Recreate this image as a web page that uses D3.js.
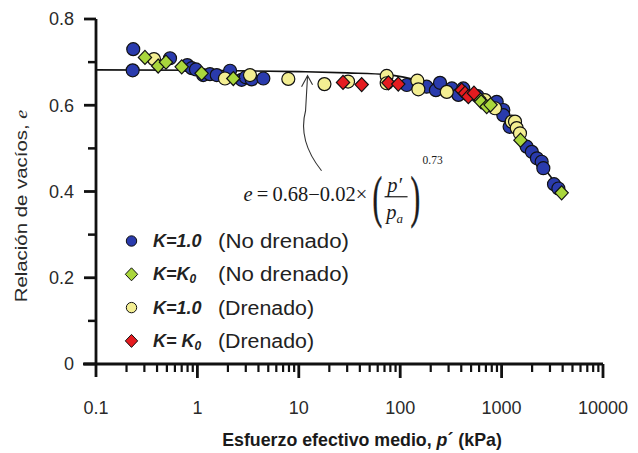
<!DOCTYPE html>
<html><head><meta charset="utf-8">
<script src="https://cdn.jsdelivr.net/npm/d3@7"></script>
<style>body{margin:0;background:#fff}svg{display:block}</style>
</head><body>
<svg id="c" width="638" height="453"></svg>
<script>
// ---- data ----
const xTicks = [0.1, 1, 10, 100, 1000, 10000];
const xTickLabels = ["0.1", "1", "10", "100", "1000", "10000"];
const yTicks = [0, 0.2, 0.4, 0.6, 0.8];
const yTickLabels = ["0", "0.2", "0.4", "0.6", "0.8"];

const blueP = [0.233, 0.23, 0.537, 0.795, 0.88, 0.968, 1.14, 1.33, 1.55, 2.1, 2.73, 3.0, 3.43, 4.47,
               116, 182, 225, 247, 323, 375, 419, 582, 895, 1040, 1040, 1200, 1767, 1986, 2230, 2484, 2580, 3287, 3630];
const blueE = [0.730, 0.681, 0.709, 0.693, 0.686, 0.683, 0.670, 0.672, 0.670, 0.680, 0.659, 0.665, 0.660, 0.662,
               0.647, 0.643, 0.635, 0.652, 0.639, 0.624, 0.639, 0.621, 0.608, 0.589, 0.577, 0.550, 0.504, 0.492, 0.477, 0.469, 0.454, 0.417, 0.407];

const yellowP = [0.373, 1.87, 3.30, 7.88, 17.9, 30.6, 73.6, 73.6, 147.6, 151, 288, 686, 861, 1259, 1356, 1410, 1518];
const yellowE = [0.707, 0.662, 0.670, 0.661, 0.649, 0.655, 0.668, 0.651, 0.657, 0.637, 0.631, 0.612, 0.593, 0.562, 0.562, 0.547, 0.535];

const greenP = [0.304, 0.41, 0.49, 0.70, 1.10, 2.26, 600, 629, 713, 778, 1535, 3909];
const greenE = [0.711, 0.691, 0.700, 0.689, 0.674, 0.662, 0.616, 0.608, 0.597, 0.601, 0.519, 0.397];

const redP = [27.3, 41.7, 76.5, 95.7, 404, 436, 470, 534];
const redE = [0.653, 0.648, 0.652, 0.649, 0.635, 0.628, 0.620, 0.628];

// fitted curve as drawn in the reference
const curveP = [0.1, 1, 10, 30, 75, 200, 490, 1040, 1770, 2580, 4040];
const curveE = [0.682, 0.681, 0.678, 0.675, 0.671, 0.650, 0.622, 0.573, 0.506, 0.457, 0.396];

const legendLabels = ["(No drenado)", "(No drenado)", "(Drenado)", "(Drenado)"];

// ---- drawing ----
const svg = d3.select("#c");
const x = d3.scaleLog().domain([0.1, 10000]).range([96, 603]);
const y = d3.scaleLinear().domain([0, 0.8]).range([364, 19]);

const COL = {blue:"#2a3bad", green:"#a9d63c", yellow:"#f3ee92", red:"#e51b20"};
const ink = "#111";

// axes
const g = svg.append("g");
g.append("line").attr("x1", x(0.1)).attr("x2", x(0.1)).attr("y1", y(0.8)).attr("y2", y(0) + 13)
  .attr("stroke", ink).attr("stroke-width", 2.8);
g.append("line").attr("x1", x(0.1) - 13).attr("x2", x(10000)).attr("y1", y(0)).attr("y2", y(0))
  .attr("stroke", ink).attr("stroke-width", 3);

// y ticks
yTicks.forEach((t, i) => {
  g.append("line").attr("x1", x(0.1) - 12).attr("x2", x(0.1)).attr("y1", y(t)).attr("y2", y(t))
    .attr("stroke", ink).attr("stroke-width", 2.8);
  g.append("text").attr("x", 74).attr("y", y(t)).attr("dy", "0.36em").attr("text-anchor", "end")
    .attr("font-family", "Liberation Sans, Arial, sans-serif").attr("font-size", 18).attr("fill", "#2a2a2a")
    .text(yTickLabels[i]);
});
[0.1, 0.3, 0.5, 0.7].forEach(t => {
  g.append("line").attr("x1", x(0.1) - 8).attr("x2", x(0.1)).attr("y1", y(t)).attr("y2", y(t))
    .attr("stroke", ink).attr("stroke-width", 2.5);
});

// x ticks
xTicks.forEach((t, i) => {
  if (i > 0) g.append("line").attr("x1", x(t)).attr("x2", x(t)).attr("y1", y(0)).attr("y2", y(0) + 14)
    .attr("stroke", ink).attr("stroke-width", 2.8);
  g.append("text").attr("x", x(t)).attr("y", 414).attr("text-anchor", "middle")
    .attr("font-family", "Liberation Sans, Arial, sans-serif").attr("font-size", 18).attr("fill", "#2a2a2a")
    .text(xTickLabels[i]);
});
for (let d = 0.1; d < 10000; d *= 10) {
  for (let k = 2; k <= 9; k++) {
    const v = d * k;
    g.append("line").attr("x1", x(v)).attr("x2", x(v)).attr("y1", y(0)).attr("y2", y(0) + 8)
      .attr("stroke", ink).attr("stroke-width", 2.2);
  }
}

// axis titles
const xt = svg.append("text").attr("x", 362).attr("y", 446).attr("text-anchor", "middle")
  .attr("font-family", "Liberation Sans, Arial, sans-serif").attr("font-size", 17.8).attr("font-weight", "bold")
  .attr("fill", "#1a1a1a");
xt.append("tspan").text("Esfuerzo efectivo medio, ");
xt.append("tspan").attr("font-style", "italic").text("p");
xt.append("tspan").text("´ (kPa)");

const yt = svg.append("text").attr("transform", "translate(27,206) rotate(-90) scale(1.2,1)").attr("text-anchor", "middle")
  .attr("font-family", "Liberation Sans, Arial, sans-serif").attr("font-size", 17).attr("fill", "#2a2a2a");
yt.append("tspan").text("Relación de vacíos, ");
yt.append("tspan").attr("font-family", "Liberation Serif, serif").attr("font-style", "italic").text("e");

// fitted curve
const line = d3.line().x((d, i) => x(curveP[i])).y((d, i) => y(curveE[i])).curve(d3.curveMonotoneX);
svg.append("path").attr("d", line(curveP)).attr("fill", "none").attr("stroke", ink).attr("stroke-width", 1.6);

// markers
function diamond(cx, cy, h) {
  return `M${cx},${cy - h}L${cx + h * 0.95},${cy}L${cx},${cy + h}L${cx - h * 0.95},${cy}Z`;
}
function circles(P, E, color) {
  svg.append("g").selectAll("circle").data(P).join("circle")
    .attr("cx", (d) => x(d)).attr("cy", (d, i) => y(E[i])).attr("r", 6.5)
    .attr("fill", color).attr("stroke", ink).attr("stroke-width", 1.2);
}
function diamonds(P, E, color) {
  svg.append("g").selectAll("path").data(P).join("path")
    .attr("d", (d, i) => diamond(x(d), y(E[i]), 7))
    .attr("fill", color).attr("stroke", ink).attr("stroke-width", 1.2);
}
circles(blueP, blueE, COL.blue);
circles(yellowP, yellowE, COL.yellow);
diamonds(greenP, greenE, COL.green);
diamonds(redP, redE, COL.red);

// arrow annotation
const ax = x(12.2), ay = y(0.68) + 5;
svg.append("path")
  .attr("d", `M${ax + 14},${ay + 95} Q${ax - 10},${ay + 65} ${ax - 2},${ay + 35} L${ax},${ay}`)
  .attr("fill", "none").attr("stroke", "#333").attr("stroke-width", 1.1);
svg.append("path")
  .attr("d", `M${ax - 6},${ay + 11} L${ax},${ay} L${ax + 5},${ay + 9}`)
  .attr("fill", "none").attr("stroke", "#333").attr("stroke-width", 1.1);

// equation
const eq = svg.append("g").attr("font-family", "Liberation Serif, 'Times New Roman', serif").attr("fill", "#1a1a1a");
const ex = ax - 64, ey = ay + 125;
const t1 = eq.append("text").attr("x", ex).attr("y", ey).attr("font-size", 20.5);
t1.append("tspan").attr("font-style", "italic").text("e");
t1.append("tspan").text("\u2009=\u20090.68\u22120.02\u00d7");
function paren(px, ch) {
  eq.append("text").attr("x", px).attr("y", ey + 15).attr("font-size", 58)
    .attr("stroke", "#1a1a1a").attr("stroke-width", 0.6)
    .attr("transform", `translate(${px},${ey}) scale(0.5,1) translate(${-px},${-ey})`).text(ch);
}
paren(ex + 129, "(");
paren(ex + 167, ")");
eq.append("text").attr("x", ex + 151).attr("y", ey - 9).attr("text-anchor", "middle").attr("font-size", 20.5)
  .attr("font-style", "italic").text("p\u2032");
eq.append("line").attr("x1", ex + 141).attr("x2", ex + 164).attr("y1", ey - 4).attr("y2", ey - 4)
  .attr("stroke", "#1a1a1a").attr("stroke-width", 1.2);
const pa = eq.append("text").attr("x", ex + 151).attr("y", ey + 18).attr("text-anchor", "middle").attr("font-size", 20.5)
  .attr("font-style", "italic");
pa.append("tspan").text("p");
pa.append("tspan").attr("font-size", 13).attr("dy", 4).text("a");
eq.append("text").attr("x", ex + 179).attr("y", ey - 37).attr("font-size", 11.5).text("0.73");

// legend
const legend = [
  {c: COL.blue, shape: "circle", k: ["K=1.0"]},
  {c: COL.green, shape: "diamond", k: ["K=K", "0"]},
  {c: COL.yellow, shape: "circle", k: ["K=1.0"]},
  {c: COL.red, shape: "diamond", k: ["K= K", "0"]}
];
legend.forEach((L, i) => {
  const ly = 241 + i * 33.3;
  if (L.shape === "circle")
    svg.append("circle").attr("cx", 131.5).attr("cy", ly).attr("r", 5.2).attr("fill", L.c).attr("stroke", ink).attr("stroke-width", 1);
  else
    svg.append("path").attr("d", diamond(131.5, ly, 6.5)).attr("fill", L.c).attr("stroke", ink).attr("stroke-width", 1);
  const t = svg.append("text").attr("x", 153).attr("y", ly + 6).attr("font-family", "Liberation Sans, Arial, sans-serif")
    .attr("font-size", 18).attr("font-weight", "bold").attr("font-style", "italic").attr("fill", "#222");
  t.append("tspan").text(L.k[0]);
  if (L.k[1]) t.append("tspan").attr("font-size", 12).attr("dy", 3).text(L.k[1]);
  svg.append("text").attr("x", 218).attr("y", ly + 7).attr("font-family", "Liberation Sans, Arial, sans-serif")
    .attr("font-size", 19.5).attr("fill", "#222").attr("textLength", legendLabels[i].length > 10 ? 131 : 96)
    .attr("lengthAdjust", "spacingAndGlyphs")
    .text(legendLabels[i]);
});
</script>
</body></html>
